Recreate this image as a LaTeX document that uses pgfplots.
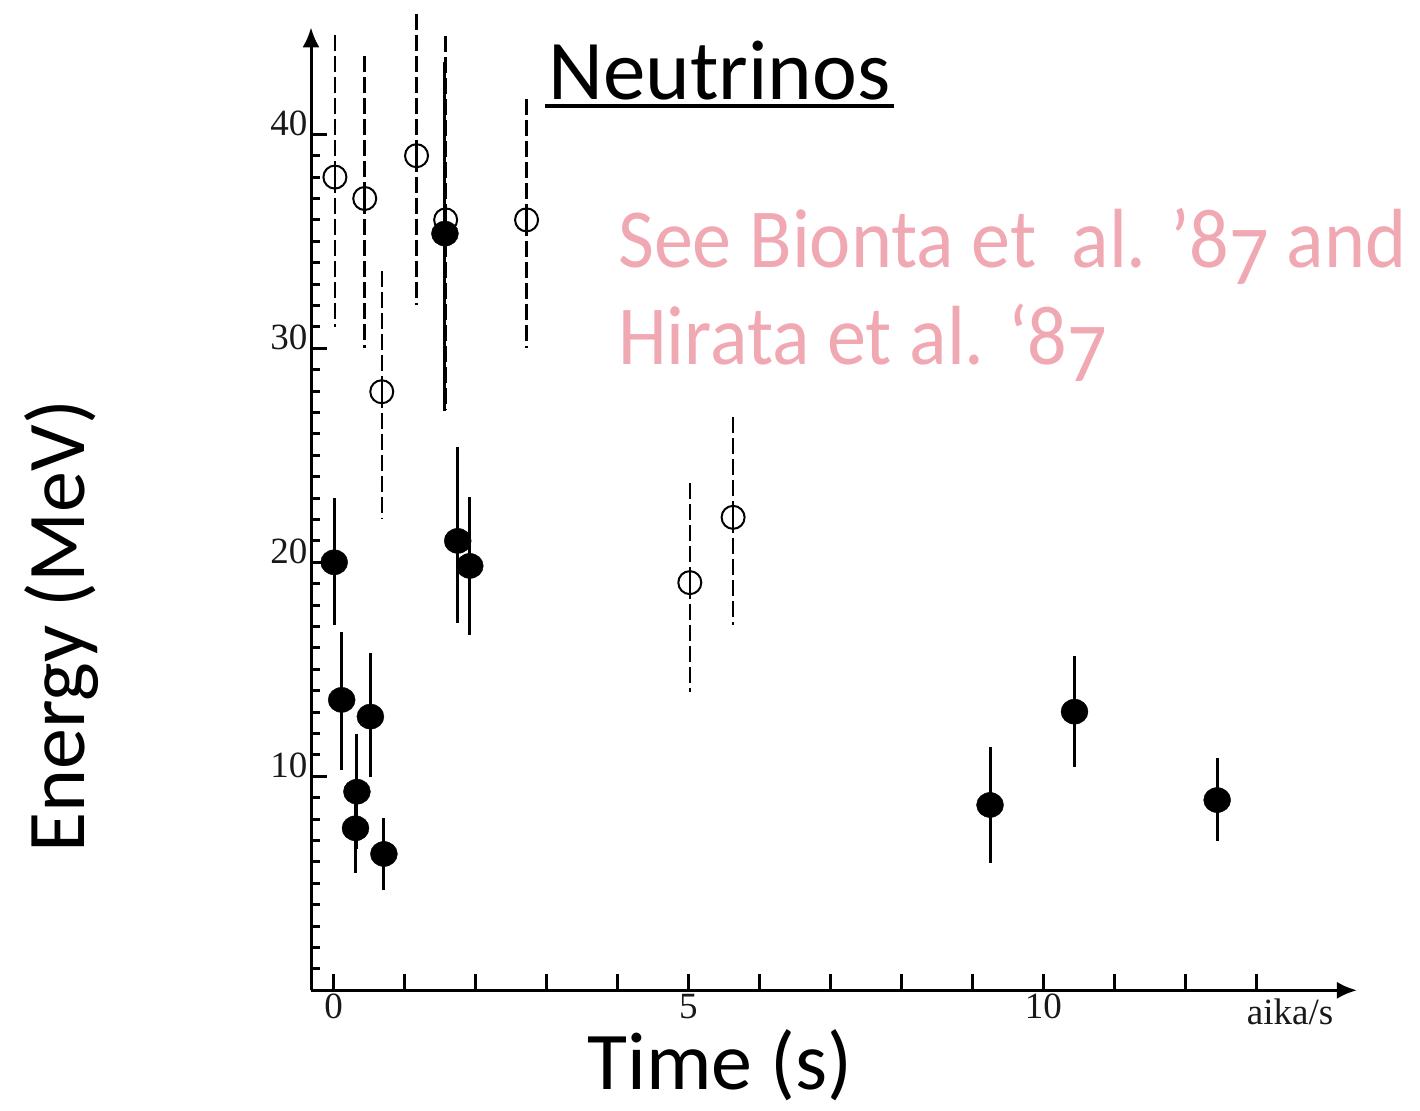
\documentclass[border=0pt]{standalone}
\usepackage{pgfplots}
\pgfplotsset{compat=1.18}
\usepackage{pgfplotstable}
\usepackage{fontspec}
\setmainfont{Carlito}
\newfontfamily\tickfont{Liberation Serif}
\newfontfamily\pinkfont[FakeStretch=0.93]{Carlito}
\usetikzlibrary{arrows.meta}
\definecolor{pinktxt}{RGB}{240,168,178}
\newcommand{\osseven}{\raisebox{-0.2em}{7}}

\pgfplotstableread{
x y ep em
0.01 20.00 3.00 2.93
0.115 13.57 3.19 3.27
0.33 9.28 2.70 2.70
0.31 7.57 2.00 2.10
0.52 12.79 2.96 2.81
0.71 6.37 1.70 1.68
1.57 35.36 8.00 8.30
1.75 21.00 4.37 3.82
1.92 19.83 3.24 3.23
9.25 8.66 2.72 2.70
10.44 13.02 2.60 2.57
12.45 8.89 1.95 1.90
}\kam

\pgfplotstableread{
x y ep em
0.02 38.00 6.70 7.00
0.44 37.00 6.80 7.00
0.68 27.97 5.83 5.97
1.17 39.00 6.70 7.00
1.58 36.00 8.70 8.90
2.72 36.00 5.80 6.00
5.02 19.05 4.72 5.10
5.63 22.10 4.80 5.03
}\imb

\begin{document}
\begin{tikzpicture}
\path[use as bounding box] (0,0) rectangle (1420pt,1110pt);
\begin{axis}[
  at={(311pt,119.7pt)}, anchor=south west,
  scale only axis, width=1046pt, height=963pt,
  xmin=-0.317, xmax=14.42, ymin=0, ymax=45,
  axis lines=left,
  axis line style={line width=3pt, -{Latex[length=20pt,width=17pt]}},
  tick align=inside,
  xtick={0,...,13}, xticklabels={0,,,,,5,,,,,10,,,},
  ytick={10,20,30,40}, yticklabels={10,20,30,40},
  minor ytick={1,...,39},
  major tick length=16pt, minor tick length=9pt,
  tick style={line width=3pt, black},
  ticklabel style={font=\tickfont\fontsize{37}{37}\selectfont, color=black!90},
  yticklabel style={yshift=11pt},
  clip=false,
]
\addplot[only marks, mark=o, mark size=11.5pt,
  mark options={line width=2pt, black, solid},
  error bars/.cd, y dir=both, y explicit, error mark=none,
  error bar style={line width=2.5pt, dash pattern=on 16pt off 5pt, black}]
  table[x=x, y=y, y error plus=ep, y error minus=em] {\imb};
\addplot[only marks, mark=*, mark size=12.5pt,
  mark options={black, fill=black, xscale=1.08},
  error bars/.cd, y dir=both, y explicit, error mark=none,
  error bar style={line width=3pt, black}]
  table[x=x, y=y, y error plus=ep, y error minus=em] {\kam};
\end{axis}
\node[anchor=base west, inner sep=0pt, font=\fontsize{85}{85}\selectfont] (t) at (548pt,1010pt) {Neutrinos};
\draw[line width=4pt] ([xshift=-3pt,yshift=-6pt]t.base west) -- ([xshift=3pt,yshift=-6pt]t.base east);
\node[anchor=base west, inner sep=0pt, text=pinktxt, font=\pinkfont\fontsize{84}{84}\selectfont] at (618pt,842pt) {See Bionta et~~al. ’8\osseven{} and};
\node[anchor=base west, inner sep=0pt, text=pinktxt, font=\pinkfont\fontsize{84}{84}\selectfont] at (618pt,745pt) {Hirata et al. ‘8\osseven};
\node[rotate=90, anchor=base, inner sep=0pt, font=\fontsize{82}{82}\selectfont] at (84pt,483.5pt) {Energy (MeV)};
\node[anchor=base, inner sep=0pt, font=\fontsize{82}{82}\selectfont] at (720pt,21pt) {Time (s)};
\node[font=\tickfont\fontsize{37}{37}\selectfont, text=black!90] at (1290pt,98pt) {aika/s};
\end{tikzpicture}
\end{document}
